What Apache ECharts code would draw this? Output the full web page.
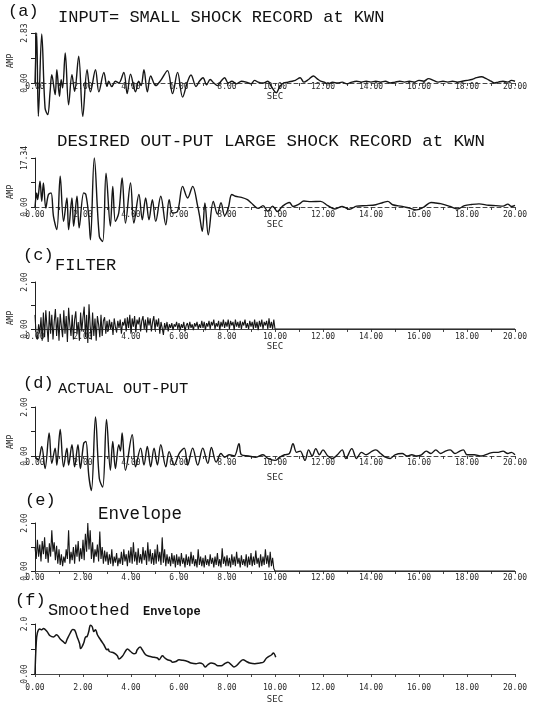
<!DOCTYPE html>
<html><head><meta charset="utf-8">
<script src="https://cdn.jsdelivr.net/npm/echarts@6/dist/echarts.min.js"></script>
<style>html,body{margin:0;padding:0;background:#fff}#c{width:540px;height:706px}</style>
</head><body><div id="c"></div>
<script>
// ---- tick labels ----
const xMin = 0, xMax = 20, xStep = 1;
const yTopLabels = ['2.83', '17.34', '2.00', '2.00', '2.00', '2.0'];
const yMaxes = [2.83, 17.34, 2.0, 2.0, 2.0, 2.0];

// ---- (a) input: small shock record [sec, amp] ----
const seriesA = [[0,0],[0.07,2.83],[0.14,-1.89],[0.28,2.77],[0.42,-1.42],[0.53,-1.79],[0.63,-0.47],[0.70,0.47],[0.84,-0.66],[0.91,0.75],[1.02,-0.75],[1.09,0.19],[1.15,-0.28],[1.26,1.70],[1.40,-1.23],[1.54,0.47],[1.65,-0.47],[1.82,1.51],[1.99,-1.89],[2.17,0.75],[2.31,-0.5],[2.52,0.75],[2.66,-0.5],[2.87,0.6],[3.0,-0.19],[3.07,0.1],[3.2,-0.2],[3.35,0.1],[3.49,0.0],[3.70,0.6],[3.84,-0.6],[3.98,0.5],[4.19,-0.5],[4.32,0.1],[4.42,-0.15],[4.54,0.75],[4.68,-0.5],[4.82,0.4],[5.03,-0.15],[5.24,0.15],[5.52,0.7],[5.73,-0.6],[5.94,0.6],[6.15,-0.8],[6.35,0.05],[6.5,0.45],[6.71,-0.2],[6.85,0.1],[7.0,0.3],[7.15,-0.1],[7.3,0.2],[7.45,0.0],[7.6,-0.15],[7.75,0.1],[7.9,0.3],[8.05,0.0],[8.2,0.1],[8.4,-0.05],[8.6,0.1],[8.8,0.05],[9.0,-0.05],[9.15,0.15],[9.3,0.05],[9.5,0.0],[9.7,0.1],[9.85,-0.2],[10.05,-0.55],[10.2,-0.2],[10.35,0.0],[10.55,0.05],[10.7,0.1],[10.85,0.15],[11.05,0.3],[11.2,0.05],[11.4,0.2],[11.6,0.4],[11.75,0.25],[11.9,0.1],[12.05,0.05],[12.2,-0.05],[12.4,0.05],[12.6,0.0],[12.8,0.05],[13.0,-0.05],[13.2,0.05],[13.4,0.1],[13.6,0.05],[13.8,0.1],[14.0,0.05],[14.2,0.1],[14.4,0.05],[14.6,0.1],[14.8,0.0],[15.0,0.05],[15.2,0.1],[15.4,0.05],[15.6,0.1],[15.8,0.05],[16.0,0.15],[16.2,0.1],[16.4,0.25],[16.6,0.15],[16.8,0.05],[17.0,0.1],[17.2,0.05],[17.4,0.1],[17.6,0.05],[17.8,0.1],[18.0,0.15],[18.2,0.2],[18.4,0.3],[18.6,0.35],[18.8,0.25],[19.0,0.1],[19.15,0.0],[19.3,0.05],[19.5,0.1],[19.7,0.05],[19.85,0.15],[20.0,0.1]];

// ---- (b) desired output: large shock record [sec, amp] ----
const seriesB = [[0,0],[0.07,4.95],[0.11,2.6],[0.21,9.1],[0.28,2.0],[0.35,8.5],[0.45,-0.4],[0.56,4.4],[0.67,5.0],[0.77,-3.3],[0.91,-8.0],[1.05,10.9],[1.19,-5.1],[1.33,3.2],[1.40,-8.0],[1.54,3.2],[1.61,-6.8],[1.75,3.8],[1.84,-7.4],[2.03,5.0],[2.12,4.4],[2.24,-3.3],[2.31,-11.6],[2.47,17.34],[2.68,-10.4],[2.82,-12.2],[2.96,12.0],[3.14,-6.8],[3.24,7.3],[3.35,-5.1],[3.49,-2.1],[3.63,10.3],[3.77,-5.7],[3.98,8.5],[4.12,-5.7],[4.33,4.4],[4.47,-4.5],[4.61,3.2],[4.75,-4.5],[4.89,2.6],[5.03,-5.1],[5.24,3.8],[5.45,-6.3],[5.59,2.6],[5.73,-2.1],[5.94,-1.5],[6.15,7.3],[6.36,3.2],[6.57,7.3],[6.78,0.2],[6.86,-3.3],[6.97,-8.6],[7.08,1.4],[7.22,-9.8],[7.43,2.0],[7.6,-2.5],[7.75,1.5],[7.9,-3.0],[8.05,-0.5],[8.2,4.4],[8.35,3.8],[8.6,3.4],[8.85,2.6],[9.0,1.5],[9.3,-0.5],[9.5,0.5],[9.7,-1.5],[9.9,0.3],[10.1,-1.6],[10.3,0.2],[10.6,1.6],[10.75,0.2],[11.0,1.0],[11.2,2.1],[11.5,1.9],[11.9,2.0],[12.2,0.5],[12.5,-0.7],[12.8,0.2],[13.1,-0.8],[13.4,0.3],[13.8,0.5],[14.2,0.8],[14.5,1.6],[14.7,2.0],[14.9,0.8],[15.3,0.2],[15.6,-0.4],[15.9,-1.0],[16.2,0.0],[16.5,1.6],[16.7,1.4],[16.9,1.2],[17.3,0.2],[17.6,-0.7],[17.9,0.5],[18.2,0.9],[18.5,1.1],[18.9,0.6],[19.2,0.5],[19.5,0.3],[19.7,1.0],[19.85,0.2],[20.0,0.6]];

// ---- (c) filter, sampled every 0.05 s from 0 to 9.95 s ----
const filterStep = 0.05;
const filterVals = [
 0.6,-0.3,-0.45,0.2,-0.2,0.5,-0.5,0.7,-0.35,0.8,0.1,-0.55,0.75,-0.2,0.6,-0.45,0.3,0.85,-0.3,0.5,
 -0.5,0.65,0.1,-0.35,0.8,-0.2,0.55,-0.55,0.9,0.2,-0.3,0.6,-0.45,0.4,0.75,-0.2,0.3,-0.5,0.7,-0.1,
 0.5,0.95,-0.35,0.6,-0.6,1.05,0.1,-0.45,0.7,-0.3,0.45,-0.5,0.55,0.2,-0.35,0.6,-0.3,0.35,0.5,-0.2,
 0.35,-0.1,0.4,0.0,0.3,-0.25,0.45,0.1,-0.15,0.35,0.05,0.4,-0.2,0.3,0.15,0.45,-0.1,0.5,0.05,0.6,
 -0.2,0.45,0.1,0.55,-0.15,0.4,0.2,0.5,-0.1,0.35,0.55,0.0,0.4,-0.15,0.5,0.15,0.45,-0.1,0.3,0.55,
 -0.05,0.4,0.1,0.45,-0.2,0.3,0.05,-0.25,0.25,0.0,0.3,-0.1,0.2,0.05,0.25,-0.05,0.2,0.1,0.3,0.0,
 0.25,-0.05,0.2,0.05,0.3,-0.1,0.15,0.25,0.0,0.3,0.05,0.2,-0.05,0.25,0.1,0.3,0.0,0.2,0.05,0.35,
 0.05,0.3,-0.05,0.25,0.1,0.35,0.0,0.3,0.15,0.4,0.0,0.25,0.1,0.35,-0.05,0.3,0.1,0.4,0.05,0.3,
 0.1,0.4,0.0,0.35,0.15,0.3,-0.05,0.4,0.1,0.3,0.05,0.35,0.0,0.3,0.15,0.4,0.05,0.25,0.0,0.35,
 0.1,0.3,0.0,0.4,0.05,0.3,-0.05,0.35,0.1,0.4,0.0,0.3,0.15,0.35,0.0,0.45,0.05,0.3,0.0,0.4
];

// ---- (d) actual output [sec, amp] ----
const seriesD = [[0,0],[0.07,-0.1],[0.14,-0.17],[0.28,0.39],[0.42,-0.51],[0.59,0.94],[0.70,-0.30],[0.84,0.32],[0.91,-0.37],[1.05,1.08],[1.19,-0.44],[1.33,0.32],[1.40,-0.37],[1.54,0.46],[1.65,-0.44],[1.79,0.46],[1.89,-0.51],[2.03,0.52],[2.12,0.59],[2.24,-0.79],[2.35,-1.41],[2.52,1.59],[2.68,-0.92],[2.82,-1.27],[2.98,1.49],[3.14,-0.58],[3.24,0.59],[3.35,-0.51],[3.49,0.46],[3.56,0.2],[3.63,0.94],[3.77,-0.58],[4.05,0.87],[4.19,-0.44],[4.40,0.32],[4.54,-0.37],[4.68,0.39],[4.82,-0.44],[4.96,0.32],[5.10,-0.37],[5.24,0.46],[5.45,-0.44],[5.59,0.18],[5.80,-0.37],[6.01,0.11],[6.22,0.32],[6.36,-0.37],[6.57,0.32],[6.78,-0.37],[6.99,0.32],[7.2,-0.3],[7.35,0.35],[7.55,-0.25],[7.75,0.1],[7.9,-0.05],[8.1,0.05],[8.3,0.0],[8.5,0.5],[8.6,0.05],[8.9,0.0],[9.2,-0.05],[9.5,0.05],[9.7,-0.1],[10.0,-0.18],[10.2,-0.05],[10.4,0.05],[10.6,0.1],[10.75,0.5],[10.9,0.15],[11.05,0.2],[11.25,-0.18],[11.4,0.25],[11.55,0.0],[11.7,0.3],[11.85,0.05],[12.0,0.25],[12.2,0.0],[12.4,-0.1],[12.6,0.05],[12.8,0.25],[12.95,-0.1],[13.2,0.3],[13.4,-0.1],[13.6,0.15],[13.8,0.05],[14.05,0.2],[14.2,0.25],[14.4,0.1],[14.6,-0.05],[14.8,-0.1],[15.0,0.05],[15.3,0.1],[15.5,0.0],[15.7,0.05],[15.9,0.0],[16.1,0.05],[16.3,0.2],[16.5,0.1],[16.7,0.25],[16.9,0.1],[17.1,0.2],[17.3,0.25],[17.5,0.1],[17.7,0.2],[17.85,0.25],[18.0,0.05],[18.3,0.05],[18.6,0.0],[18.9,0.1],[19.1,0.15],[19.3,0.15],[19.5,0.2],[19.7,0.1],[19.85,0.15],[20.0,0.05]];

// ---- (e) envelope, sampled every 0.05 s from 0 to 9.95 s ----
const envStep = 0.05;
const envVals = [
 1.0,0.5,1.3,0.6,1.1,0.4,1.25,0.7,1.4,0.5,1.0,0.35,1.15,0.6,1.7,0.8,1.2,0.45,1.05,0.3,
 0.9,0.25,0.7,0.2,0.6,0.35,0.9,0.5,1.7,0.3,0.8,0.45,1.0,0.3,1.1,0.6,1.25,0.4,0.95,0.5,
 1.3,0.45,1.55,0.8,2.0,0.9,1.7,0.5,1.2,0.35,0.9,0.6,1.1,0.4,1.65,0.5,1.0,0.3,0.85,0.4,
 0.8,0.25,0.7,0.3,0.9,0.2,0.6,0.35,0.75,0.2,0.55,0.3,0.8,0.25,0.9,0.4,0.7,0.2,0.85,0.35,
 1.0,0.3,1.2,0.4,0.8,0.25,0.95,0.35,0.7,0.3,1.0,0.45,0.85,0.25,1.2,0.4,0.9,0.3,0.75,0.25,
 0.9,0.3,1.1,0.4,0.8,0.25,1.4,0.35,0.9,0.2,0.7,0.3,0.6,0.2,0.75,0.3,0.65,0.15,0.7,0.25,
 0.6,0.2,0.75,0.3,0.55,0.15,0.7,0.25,0.6,0.2,0.8,0.3,0.65,0.2,0.5,0.15,0.9,0.25,0.6,0.2,
 0.55,0.15,0.65,0.25,0.5,0.2,0.7,0.3,0.55,0.15,0.6,0.25,0.75,0.2,0.5,0.15,0.95,0.3,0.6,0.2,
 0.65,0.2,0.55,0.15,0.7,0.25,0.6,0.2,0.8,0.3,0.55,0.15,0.65,0.25,0.5,0.2,0.7,0.15,0.6,0.25,
 0.75,0.2,0.6,0.25,0.85,0.3,0.55,0.15,0.7,0.2,0.6,0.25,0.9,0.3,0.65,0.15,0.8,0.2,0.55,0.1
];

// ---- (f) smoothed envelope [sec, amp] ----
const seriesF = [[0,0],[0.05,1.2],[0.1,1.65],[0.2,1.8],[0.28,1.77],[0.35,1.82],[0.5,1.7],[0.63,1.53],[0.77,1.48],[0.9,1.57],[1.05,1.4],[1.2,1.27],[1.26,1.22],[1.33,1.37],[1.47,1.64],[1.57,1.78],[1.65,1.76],[1.75,1.5],[1.86,1.21],[1.9,1.02],[2.03,1.24],[2.1,1.47],[2.17,1.5],[2.24,1.7],[2.31,1.95],[2.38,1.9],[2.45,1.7],[2.52,1.77],[2.6,1.57],[2.73,1.37],[2.87,1.17],[3.0,0.97],[3.05,1.0],[3.1,0.9],[3.29,0.84],[3.43,0.73],[3.5,0.6],[3.64,0.71],[3.78,0.93],[3.85,1.0],[3.98,0.9],[4.12,0.81],[4.2,0.83],[4.26,0.97],[4.38,1.08],[4.47,0.97],[4.61,0.77],[4.75,0.71],[4.96,0.67],[5.1,0.64],[5.17,0.57],[5.31,0.73],[5.41,0.64],[5.52,0.57],[5.66,0.53],[5.73,0.47],[5.87,0.5],[6.0,0.57],[6.15,0.55],[6.36,0.5],[6.5,0.44],[6.71,0.41],[6.85,0.44],[6.99,0.4],[7.09,0.28],[7.2,0.37],[7.34,0.44],[7.48,0.41],[7.62,0.33],[7.76,0.33],[7.9,0.41],[8.04,0.47],[8.18,0.37],[8.29,0.28],[8.39,0.33],[8.53,0.47],[8.67,0.57],[8.81,0.5],[8.95,0.44],[9.16,0.41],[9.37,0.44],[9.51,0.47],[9.65,0.64],[9.86,0.77],[9.93,0.84],[10.03,0.67]];

// ---- build series data ----
const dataC = filterVals.map((v, i) => [+(i * filterStep).toFixed(2), v]).concat([[10, 0], [20, 0]]);
const dataE = envVals.map((v, i) => [+(i * envStep).toFixed(2), v]).concat([[10, 0], [20, 0]]);
const allData = [seriesA, seriesB, dataC, seriesD, dataE, seriesF];

// ---- layout (pixels) ----
const layout = [
  {top: 33,  h: 50, smooth: 0.35, dashed: true,  lm: 0,  sec: 9,  w: 1.4},
  {top: 158, h: 49, smooth: 0.35, dashed: true,  lm: 4,  sec: 10, w: 1.4},
  {top: 282, h: 47, smooth: false, dashed: false, lm: 4, sec: 12, w: 1.1},
  {top: 407, h: 49, smooth: 0.35, dashed: true,  lm: 3,  sec: 17, w: 1.4},
  {top: 523, h: 48, smooth: false, dashed: false, lm: 3, sec: null, w: 1.1},
  {top: 624, h: 50, smooth: 0.4, dashed: false,  lm: 10, sec: 21, w: 1.5}
];
const INK = '#161616';
const tickFont = 'DejaVu Sans Mono';

const grid = [], xAxis = [], yAxis = [], series = [];
layout.forEach((p, i) => {
  grid.push({left: 35, right: 25, top: p.top, height: p.h});
  xAxis.push({
    type: 'value', gridIndex: i, min: xMin, max: xMax, interval: xStep,
    axisLine: {show: true, lineStyle: {color: '#333', width: 0.9, type: p.dashed ? [4, 3] : 'solid'}},
    axisTick: {show: true, length: 3, lineStyle: {color: '#333', width: 0.9}},
    splitLine: {show: false},
    axisLabel: {margin: p.lm, fontFamily: tickFont, fontSize: 8, color: '#2a2a2a',
      formatter: v => (Math.round(v) % 2 === 0 ? v.toFixed(2) : '')},
    name: p.sec !== null ? 'SEC' : '', nameLocation: 'middle', nameGap: p.sec || 0,
    nameTextStyle: {fontFamily: tickFont, fontSize: 9, color: '#2a2a2a'}
  });
  const mx = yMaxes[i];
  yAxis.push({
    type: 'value', gridIndex: i, min: 0, max: mx, interval: mx / 2,
    axisLine: {show: true, lineStyle: {color: '#222', width: 1}},
    axisTick: {show: true, length: 4, lineStyle: {color: '#222', width: 1}},
    splitLine: {show: false},
    axisLabel: {rotate: 90, margin: 6, fontFamily: tickFont, fontSize: 8, color: '#2a2a2a',
      formatter: v => (v === 0 ? '0.00' : (Math.abs(v - mx) < 1e-6 ? yTopLabels[i] : ''))}
  });
  series.push({
    type: 'line', xAxisIndex: i, yAxisIndex: i, data: allData[i],
    showSymbol: false, smooth: p.smooth, clip: false, animation: false,
    lineStyle: {color: INK, width: p.w}
  });
});

const mono = 'Liberation Mono';
function txt(x, y, s, size, extra) {
  return Object.assign({type: 'text', x: x, y: y, silent: true,
    style: {text: s, font: size + 'px "' + mono + '"', fill: '#111', verticalAlign: 'middle', align: 'left'}}, extra || {});
}
function amp(x, y) {
  return {type: 'text', x: x, y: y, rotation: Math.PI / 2, silent: true,
    style: {text: 'AMP', font: '8px "DejaVu Sans Mono"', fill: '#2a2a2a', align: 'center', verticalAlign: 'middle'}};
}
const graphic = [
  txt(8, 11, '(a)', 17), txt(58, 17, 'INPUT= SMALL SHOCK RECORD at KWN', 17),
  txt(57, 141, 'DESIRED OUT-PUT LARGE SHOCK RECORD at KWN', 17.4),
  txt(23, 255, '(c)', 17), txt(55, 265, 'FILTER', 17),
  txt(23, 383, '(d)', 17), txt(58, 389, 'ACTUAL OUT-PUT', 15.5),
  txt(25, 500, '(e)', 17), txt(98, 514, 'Envelope', 17.5),
  txt(15, 600, '(f)', 17), txt(48, 610, 'Smoothed', 17),
  {type: 'text', x: 143, y: 612, silent: true, style: {text: 'Envelope', font: 'bold 12px "' + mono + '"', fill: '#111', verticalAlign: 'middle'}},
  amp(11, 61), amp(11, 192), amp(11, 318), amp(11, 442)
];

const chart = echarts.init(document.getElementById('c'), null, {renderer: 'canvas'});
chart.setOption({animation: false, backgroundColor: '#fff', grid, xAxis, yAxis, series, graphic});
</script>
</body></html>
